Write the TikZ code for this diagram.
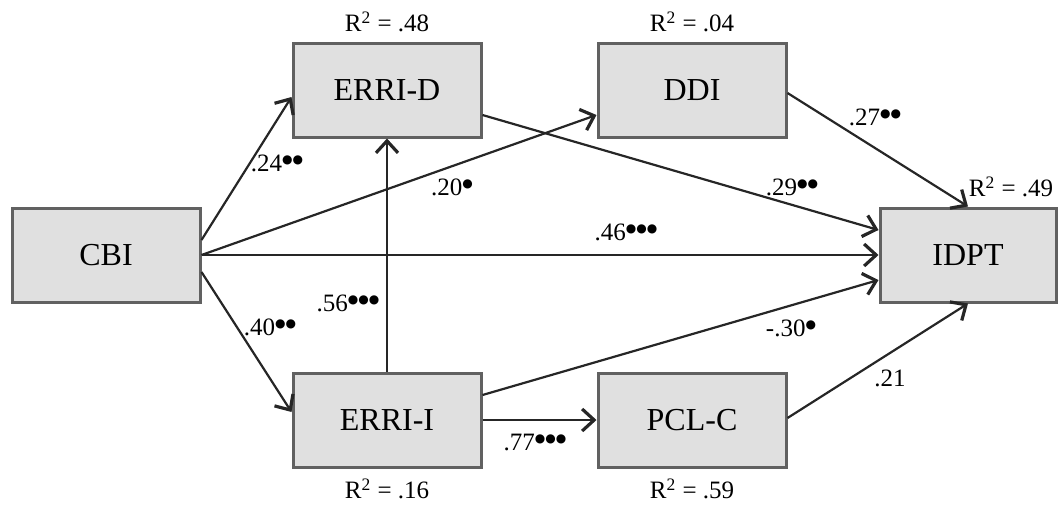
\documentclass[tikz,border=0pt]{standalone}
\usepackage{fontspec}
\setmainfont{Liberation Serif}
\newfontfamily\dotfont{DejaVu Sans}
\usetikzlibrary{arrows.meta,calc}
\newcommand{\sg}[1]{\raisebox{0.3em}{\dotfont\fontsize{6}{7}\selectfont #1}}
\begin{document}
\begin{tikzpicture}[x=0.5pt,y=-0.5pt,
  var/.style={draw=black!62,line width=1.5pt,fill=black!12,minimum width=94pt,minimum height=47pt,inner sep=0pt,font=\fontsize{16}{18}\selectfont},
  path/.style={draw=black!85,line width=1.1pt,-{Straight Barb[length=6pt,width=11pt,line width=1.6pt]}},
  coef/.style={font=\fontsize{12.5}{14}\selectfont,inner sep=1pt},
  rsq/.style={font=\fontsize{12.5}{14}\selectfont,inner sep=1pt}]
\useasboundingbox (0,0) rectangle (1060,504);
\node[var] (cbi) at (106,255) {CBI};
\node[var] (errid) at (387,90) {ERRI-D};
\node[var] (ddi) at (692,90) {DDI};
\node[var,minimum width=88pt] (idpt) at (968,255) {IDPT};
\node[var] (errii) at (387,420) {ERRI-I};
\node[var] (pclc) at (692,420) {PCL-C};

\node[rsq] (r1) at (387,22) {R\textsuperscript{2} = .48};
\node[rsq] (r2) at (692,22) {R\textsuperscript{2} = .04};
\node[rsq] (r3) at (1011,187) {R\textsuperscript{2} = .49};
\node[rsq] (r4) at (387,489) {R\textsuperscript{2} = .16};
\node[rsq] (r5) at (692,489) {R\textsuperscript{2} = .59};

\draw[path] ($(cbi.east)+(0,-15)$) -- ($(errid.west)+(0,7)$);
\draw[path] (cbi.east) -- ($(ddi.west)+(0,25)$);
\draw[path] (cbi.east) -- (idpt.west);
\draw[path] ($(cbi.east)+(0,17)$) -- ($(errii.west)+(0,-8)$);
\draw[path] (errii.north) -- (errid.south);
\draw[path] ($(errid.east)+(0,25)$) -- ($(idpt.west)+(0,-25)$);
\draw[path] ($(ddi.east)+(0,3)$) -- (idpt.north);
\draw[path] ($(errii.east)+(0,-25)$) -- ($(idpt.west)+(0,25)$);
\draw[path] (errii.east) -- (pclc.west);
\draw[path] ($(pclc.east)+(0,-2)$) -- (idpt.south);

\node[coef] (c1) at (277,163) {.24\sg{●●}};
\node[coef] (c2) at (452,187) {.20\sg{●}};
\node[coef] (c3) at (348,303) {.56\sg{●●●}};
\node[coef] (c4) at (270,327) {.40\sg{●●}};
\node[coef] (c5) at (626,232) {.46\sg{●●●}};
\node[coef] (c6) at (792,187) {.29\sg{●●}};
\node[coef] (c7) at (875,117) {.27\sg{●●}};
\node[coef] (c8) at (791,328) {-.30\sg{●}};
\node[coef] (c9) at (890,378) {.21};
\node[coef] (c10) at (535,442) {.77\sg{●●●}};
\end{tikzpicture}
\end{document}
